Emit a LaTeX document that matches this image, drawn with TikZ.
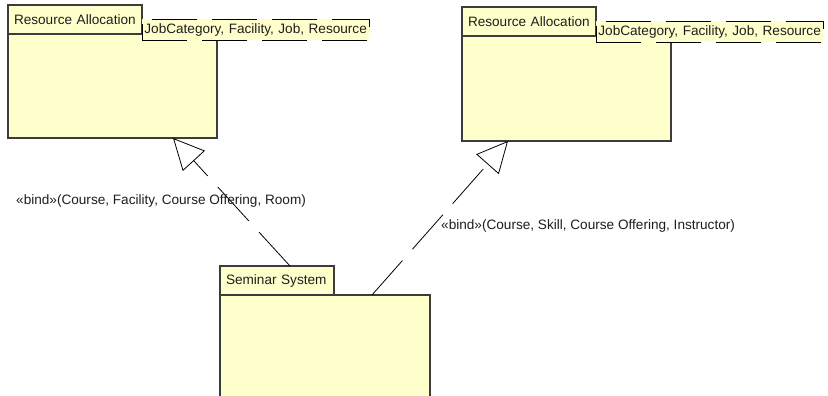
\documentclass[tikz,border=0pt]{standalone}
\usepackage{fontspec}
\setmainfont{Liberation Sans}
\usetikzlibrary{arrows.meta,calc}
\definecolor{pkgfill}{HTML}{FFFFCC}
\definecolor{pkgline}{HTML}{3C3C3C}
\definecolor{txt}{HTML}{1E1E1E}
\begin{document}
\begin{tikzpicture}[x=1pt,y=-1pt,
  every node/.style={font=\fontsize{13.6}{16}\selectfont, text=txt},
  pkgtab/.style={draw=pkgline, fill=pkgfill, line width=1.1pt, anchor=north west,
    inner sep=0pt, minimum height=29pt, text width=#1pt-12pt, align=left, outer sep=0pt,
    inner xsep=6pt},
  pkgbody/.style n args={2}{draw=pkgline, fill=pkgfill, line width=1.1pt, anchor=north west,
    inner sep=0pt, minimum width=#1pt, minimum height=#2pt, outer sep=0pt},
  tparams/.style={draw=black, fill=pkgfill, line width=0.8pt, anchor=north west,
    dash pattern=on 45pt off 15pt, inner xsep=2pt, inner ysep=0pt,
    minimum height=21pt, minimum width=227pt, align=left, text width=223pt},
  bindlbl/.style={anchor=west, inner sep=0pt},
  binding/.style={draw=black, line width=0.8pt, dash pattern=on 46pt off 15pt,
    -{Triangle[open, length=31pt, width=30pt, line width=0.8pt, fill=white]}},
]
\clip (0,0) rectangle (828,396);
\fill[white] (0,0) rectangle (828,396);

% left template package
\node[pkgbody={209}{105}] (lbody) at (8,33) {};
\node[pkgtab=134] (ltab) at (8,5) {Resource Allocation};
\node[tparams] (lparams) at (142,19) {JobCategory, Facility, Job, Resource};

% right template package
\node[pkgbody={209}{105}] (rbody) at (462,36) {};
\node[pkgtab=134] (rtab) at (462,7) {Resource Allocation};
\node[tparams] (rparams) at (596,21) {JobCategory, Facility, Job, Resource};

% bound package
\node[pkgbody={210}{110}] (sbody) at (220,295) {};
\node[pkgtab=114] (stab) at (220,266) {Seminar System};

% bindings
\draw[binding] ($(stab.north west)+(70,0)$) -- ($(lbody.south west)+(165,0)$);
\draw[binding] ($(sbody.north west)+(152,0)$) -- ($(rbody.south west)+(46,0)$);

\node[bindlbl] (lbind) at (16,201) {«bind»(Course, Facility, Course Offering, Room)};
\node[bindlbl] (rbind) at (441,226) {«bind»(Course, Skill, Course Offering, Instructor)};
\end{tikzpicture}
\end{document}
